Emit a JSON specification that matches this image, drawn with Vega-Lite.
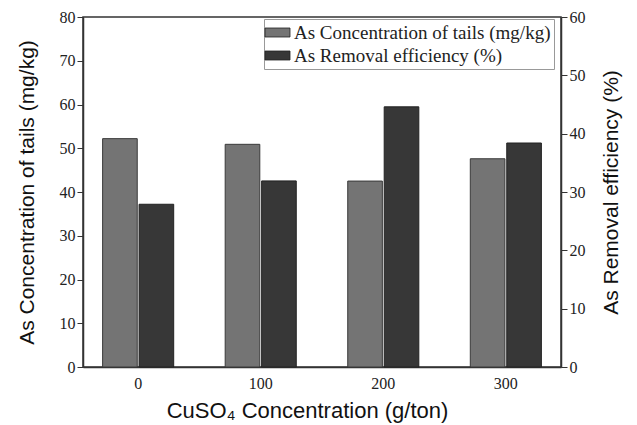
{
  "$schema": "https://vega.github.io/schema/vega-lite/v6.json",
  "autosize": {"type": "none"},
  "width": 478,
  "height": 350,
  "padding": {"left": 83, "top": 17, "right": 76, "bottom": 58},
  "background": "white",
  "config": {
    "view": {"stroke": "#333", "strokeWidth": 1.5},
    "axis": {"domainColor": "#333", "domainWidth": 1.5, "tickColor": "#333", "labelFont": "Liberation Serif", "labelFontSize": 16, "labelColor": "#222", "titleFont": "Liberation Sans", "titleFontSize": 21, "titleFontWeight": "normal", "titleColor": "#111", "grid": false}
  },
  "data": {
    "values": [
      {"cuso4": "0", "conc": 52.2, "eff": 27.9},
      {"cuso4": "100", "conc": 50.9, "eff": 31.9},
      {"cuso4": "200", "conc": 42.5, "eff": 44.6},
      {"cuso4": "300", "conc": 47.6, "eff": 38.4}
    ]
  },
  "encoding": {
    "x": {"field": "cuso4", "type": "nominal", "sort": null, "scale": {"paddingInner": 0.42, "paddingOuter": 0.16},
      "axis": {"title": "CuSO₄ Concentration (g/ton)", "labelAngle": 0, "ticks": false, "labelPadding": 8, "titleX": 224, "titlePadding": 9, "titleFontSize": 22}}
  },
  "layer": [
    {
      "mark": {"type": "bar", "stroke": "#3a3a3a", "strokeWidth": 1},
      "encoding": {
        "xOffset": {"datum": "As Concentration of tails (mg/kg)", "scale": {"domain": ["As Concentration of tails (mg/kg)", "As Removal efficiency (%)"], "paddingInner": 0.05}},
        "y": {"field": "conc", "type": "quantitative", "scale": {"domain": [0, 80]},
          "axis": {"orient": "left", "title": "As Concentration of tails (mg/kg)", "values": [0,10,20,30,40,50,60,70,80], "tickSize": 6, "titlePadding": 22}},
        "color": {"datum": "As Concentration of tails (mg/kg)", "type": "nominal",
          "scale": {"domain": ["As Concentration of tails (mg/kg)", "As Removal efficiency (%)"], "range": ["#747474", "#373737"]},
          "legend": {"title": null, "orient": "none", "legendX": 181, "legendY": 2, "labelFont": "Liberation Serif", "labelFontSize": 19, "labelColor": "#222", "labelLimit": 400, "symbolType": "M-1.25,-0.45h2.5v0.9h-2.5z", "symbolSize": 400, "symbolStrokeColor": "#333", "symbolStrokeWidth": 0.8, "strokeColor": "#999", "fillColor": "white", "padding": 3, "rowPadding": 2, "labelOffset": 6}}
      }
    },
    {
      "mark": {"type": "bar", "stroke": "#222", "strokeWidth": 1},
      "encoding": {
        "xOffset": {"datum": "As Removal efficiency (%)"},
        "y": {"field": "eff", "type": "quantitative", "scale": {"domain": [0, 60]},
          "axis": {"orient": "right", "title": "As Removal efficiency (%)", "titleAngle": 270, "titleBaseline": "top", "values": [0,10,20,30,40,50,60], "tickSize": 6, "titlePadding": 15}},
        "color": {"datum": "As Removal efficiency (%)", "type": "nominal"}
      }
    }
  ],
  "resolve": {"scale": {"y": "independent"}}
}
